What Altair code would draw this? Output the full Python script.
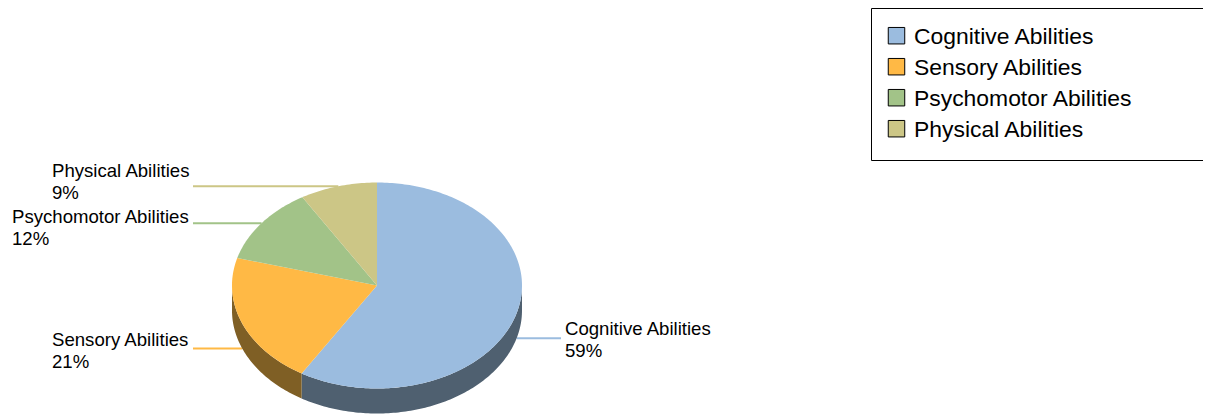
import math
import altair as alt
import pandas as pd

# --- chart values ---
categories = ["Cognitive Abilities", "Sensory Abilities", "Psychomotor Abilities", "Physical Abilities"]
shares = [58.7, 20.6, 12.1, 8.6]
pct_labels = ["59%", "21%", "12%", "9%"]
top_colors = ["#9BBCDF", "#FFB945", "#A2C388", "#CCC686"]
side_colors = ["#4F6070", "#7F5F25", "#516244", "#666343"]

# --- layout (page pixels) ---
PAGE_R, PAGE_B = 1203, 415
CX, CY, RX, RY, DEPTH = 377, 285.5, 145, 103, 25
LEADER_LEFT, LEADER_RIGHT = 193, 561
label_left = [565, 52, 12, 52]
label_line1_y = [328.7, 339.7, 216.7, 170.7]
LINE_GAP = 22
legend_row_y = [36.7, 67.7, 98.7, 129.7]
swatch_row_y = [35.7, 66.7, 97.7, 128.7]
SWATCH_X, LEGEND_TEXT_X = 896.5, 914


def ell(a_deg, dy=0.0):
    a = math.radians(a_deg)
    return CX + RX * math.sin(a), CY - RY * math.cos(a) + dy


top_rows, side_rows, leader_rows, text_rows, legend_rows = [], [], [], [], []
start = 0.0
for i, (cat, share) in enumerate(zip(categories, shares)):
    end = start + share * 3.6
    n = max(2, int(end - start) + 1)
    angles = [start + (end - start) * k / n for k in range(n + 1)]
    pts = [(CX, CY)] + [ell(a) for a in angles]
    for k, (x, y) in enumerate(pts):
        top_rows.append(dict(cat=cat, px=x, py=y, k=k))

    lo, hi = max(start, 90.0), min(end, 270.0)
    if hi > lo:
        m = max(2, int(hi - lo) + 1)
        arc = [lo + (hi - lo) * k / m for k in range(m + 1)]
        wall = [ell(a) for a in arc] + [ell(a, DEPTH) for a in reversed(arc)]
        for k, (x, y) in enumerate(wall):
            side_rows.append(dict(wedge=cat, shade=side_colors[i], px=x, py=y, k=k))

    mid = (start + end) / 2
    mx, my = ell(mid, DEPTH if math.cos(math.radians(mid)) < 0 else 0.0)
    far = LEADER_RIGHT if mid < 180 else LEADER_LEFT
    leader_rows.append(dict(x1=mx, x2=far, y=my, c=top_colors[i]))

    text_rows.append(dict(t=cat, px=label_left[i], py=label_line1_y[i]))
    text_rows.append(dict(t=pct_labels[i], px=label_left[i], py=label_line1_y[i] + LINE_GAP))
    legend_rows.append(dict(cat=cat, sx=SWATCH_X, tx=LEGEND_TEXT_X, py=legend_row_y[i], sy=swatch_row_y[i]))
    start = end

xs = alt.Scale(domain=[8, PAGE_R], range=[0, PAGE_R - 8])
ys = alt.Scale(domain=[8, PAGE_B], range=[0, PAGE_B - 8])
X = alt.X("px:Q", scale=xs, axis=None)
Y = alt.Y("py:Q", scale=ys, axis=None)
fill_scale = alt.Scale(domain=categories, range=top_colors)

box = alt.Chart(pd.DataFrame([dict(px=871.5, px2=1240, py=8.5, py2=160.5)])).mark_rect(
    fill="white", stroke="black", strokeWidth=1
).encode(x=X, x2="px2:Q", y=Y, y2="py2:Q")

leaders = alt.Chart(pd.DataFrame(leader_rows)).mark_rule(strokeWidth=2).encode(
    x=alt.X("x1:Q", scale=xs, axis=None),
    x2="x2:Q",
    y=alt.Y("y:Q", scale=ys, axis=None),
    stroke=alt.Stroke("c:N", scale=None),
)

side = alt.Chart(pd.DataFrame(side_rows)).mark_line(
    interpolate="linear-closed", strokeWidth=0
).encode(
    x=X, y=Y, order="k:Q", detail="wedge:N",
    fill=alt.Fill("shade:N", scale=None),
)

top = alt.Chart(pd.DataFrame(top_rows)).mark_line(
    interpolate="linear-closed", strokeWidth=0
).encode(
    x=X, y=Y, order="k:Q",
    fill=alt.Fill("cat:N", scale=fill_scale, legend=None),
)

texts = alt.Chart(pd.DataFrame(text_rows)).mark_text(
    align="left", baseline="middle", font="Liberation Sans", fontSize=18.6, color="black"
).encode(x=X, y=Y, text="t:N")

legend_df = pd.DataFrame(legend_rows)
legend_swatches = alt.Chart(legend_df).mark_point(
    shape="square", filled=True, size=272, stroke="black", strokeWidth=1, opacity=1
).encode(
    x=alt.X("sx:Q", scale=xs, axis=None),
    y=alt.Y("sy:Q", scale=ys, axis=None),
    fill=alt.Fill("cat:N", scale=fill_scale, legend=None),
)
legend_labels = alt.Chart(legend_df).mark_text(
    align="left", baseline="middle", font="Liberation Sans", fontSize=22.9, color="black"
).encode(
    x=alt.X("tx:Q", scale=xs, axis=None),
    y=alt.Y("py:Q", scale=ys, axis=None),
    text="cat:N",
)

chart = alt.layer(box, leaders, side, top, texts, legend_swatches, legend_labels).properties(
    width=PAGE_R - 8,
    height=PAGE_B - 8,
    padding=0,
    autosize=alt.AutoSizeParams(type="none"),
    background="white",
).configure_view(stroke=None)

chart.save("out.html", embed_options={"renderer": "svg", "actions": False})
